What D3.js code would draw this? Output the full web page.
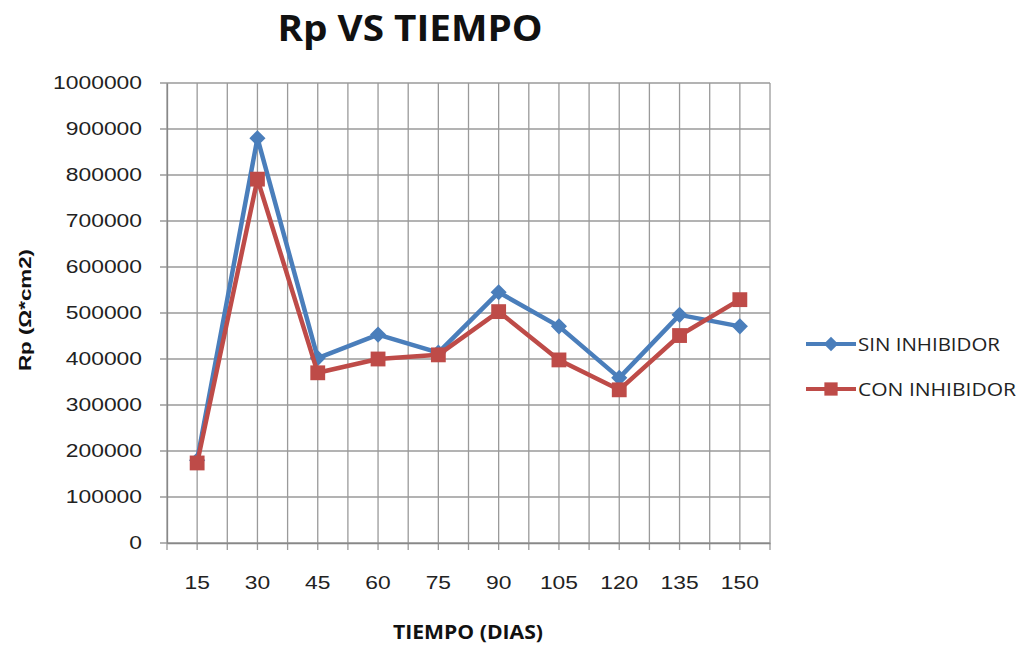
<!DOCTYPE html>
<html>
<head>
<meta charset="utf-8">
<script src="https://cdn.jsdelivr.net/npm/d3@7"></script>
<style>
  body { margin: 0; background: #fff; }
  svg { font-family: "Open Sans", "Noto Sans", sans-serif; }
</style>
</head>
<body>
<svg id="chart" width="1019" height="646"></svg>
<script>
const days = ["15", "30", "45", "60", "75", "90", "105", "120", "135", "150"];
const sinInhibidor = [180000, 880000, 402000, 453000, 414000, 545000, 471000, 359000, 496000, 471000];
const conInhibidor = [174000, 791000, 370000, 400000, 409000, 503000, 398000, 333000, 451000, 529000];
const yTicks = d3.range(0, 1000001, 100000);

const svg = d3.select("#chart");
const plot = { left: 167, right: 770, top: 83, bottom: 543 };
const digitW = 12.7;

const x = d3.scaleBand().domain(days).range([plot.left, plot.right]);
const y = d3.scaleLinear().domain([0, 1000000]).range([plot.bottom, plot.top]);

// horizontal gridlines (with outside tick)
svg.append("g")
    .selectAll("line")
    .data(yTicks)
    .enter().append("line")
    .attr("x1", plot.left - 7)
    .attr("x2", plot.right)
    .attr("y1", d => y(d))
    .attr("y2", d => y(d))
    .attr("stroke", "#9a9a9a")
    .attr("stroke-width", 1.3);

// vertical gridlines at category edges and centers
const vLines = [];
days.forEach(d => {
    vLines.push(x(d));
    vLines.push(x(d) + x.bandwidth() / 2);
});
vLines.push(plot.right);
svg.append("g")
    .selectAll("line")
    .data(vLines)
    .enter().append("line")
    .attr("x1", d => d)
    .attr("x2", d => d)
    .attr("y1", plot.top)
    .attr("y2", plot.bottom + 7)
    .attr("stroke", "#9a9a9a")
    .attr("stroke-width", 1.3);

// axes
const yAxis = svg.append("g")
    .attr("transform", `translate(${plot.left},0)`)
    .call(d3.axisLeft(y).tickValues(yTicks).tickSize(0).tickPadding(25).tickFormat(d3.format("d")));
yAxis.select(".domain").attr("stroke", "#888").attr("stroke-width", 1.3);
yAxis.selectAll("text")
    .attr("font-size", 18).attr("fill", "#222")
    .attr("textLength", d => String(d).length * digitW)
    .attr("lengthAdjust", "spacingAndGlyphs");

const xAxis = svg.append("g")
    .attr("transform", `translate(0,${plot.bottom})`)
    .call(d3.axisBottom(x).tickSize(0).tickPadding(33));
xAxis.select(".domain").attr("stroke", "#888").attr("stroke-width", 1.3);
xAxis.selectAll("text")
    .attr("font-size", 18).attr("fill", "#222")
    .attr("textLength", d => d.length * digitW)
    .attr("lengthAdjust", "spacingAndGlyphs");

// series
const series = [
    { name: "SIN INHIBIDOR", values: sinInhibidor, color: "#4a7ebb", symbol: d3.symbolSquare, size: 130, rot: 45, textLen: 142 },
    { name: "CON INHIBIDOR", values: conInhibidor, color: "#be4b48", symbol: d3.symbolSquare, size: 220, rot: 0, textLen: 158 }
];

const line = d3.line()
    .x((d, i) => x(days[i]) + x.bandwidth() / 2)
    .y(d => y(d));

series.forEach(s => {
    svg.append("path")
        .datum(s.values)
        .attr("d", line)
        .attr("fill", "none")
        .attr("stroke", s.color)
        .attr("stroke-width", 4.5)
        .attr("stroke-linejoin", "round");
    svg.append("g")
        .selectAll("path")
        .data(s.values)
        .enter().append("path")
        .attr("transform", (d, i) => `translate(${x(days[i]) + x.bandwidth() / 2},${y(d)}) rotate(${s.rot})`)
        .attr("d", d3.symbol().type(s.symbol).size(s.size))
        .attr("fill", s.color);
});

// legend
const legend = svg.append("g");
series.forEach((s, i) => {
    const ly = 344 + i * 45;
    legend.append("line")
        .attr("x1", 806).attr("x2", 856)
        .attr("y1", ly).attr("y2", ly)
        .attr("stroke", s.color).attr("stroke-width", 4);
    legend.append("path")
        .attr("transform", `translate(831,${ly}) rotate(${s.rot})`)
        .attr("d", d3.symbol().type(s.symbol).size(s.size * 0.8))
        .attr("fill", s.color);
    legend.append("text")
        .attr("x", 858).attr("y", ly + 7)
        .attr("font-size", 18).attr("fill", "#222")
        .attr("textLength", s.textLen)
        .attr("lengthAdjust", "spacingAndGlyphs")
        .text(s.name);
});

// titles
svg.append("text")
    .attr("x", 410).attr("y", 41)
    .attr("text-anchor", "middle")
    .attr("font-size", 35).attr("font-weight", "bold")
    .attr("fill", "#111")
    .attr("textLength", 265)
    .attr("lengthAdjust", "spacingAndGlyphs")
    .text("Rp VS TIEMPO");

svg.append("text")
    .attr("x", 468).attr("y", 639)
    .attr("text-anchor", "middle")
    .attr("font-size", 19).attr("font-weight", "bold")
    .attr("fill", "#111")
    .attr("textLength", 150)
    .attr("lengthAdjust", "spacingAndGlyphs")
    .text("TIEMPO (DIAS)");

svg.append("text")
    .attr("transform", "translate(31,310) rotate(-90)")
    .attr("text-anchor", "middle")
    .attr("font-family", "'Liberation Sans', Arial, sans-serif")
    .attr("font-size", 16).attr("font-weight", "bold")
    .attr("fill", "#111")
    .attr("textLength", 122)
    .attr("lengthAdjust", "spacingAndGlyphs")
    .text("Rp (Ω*cm2)");
</script>
</body>
</html>
